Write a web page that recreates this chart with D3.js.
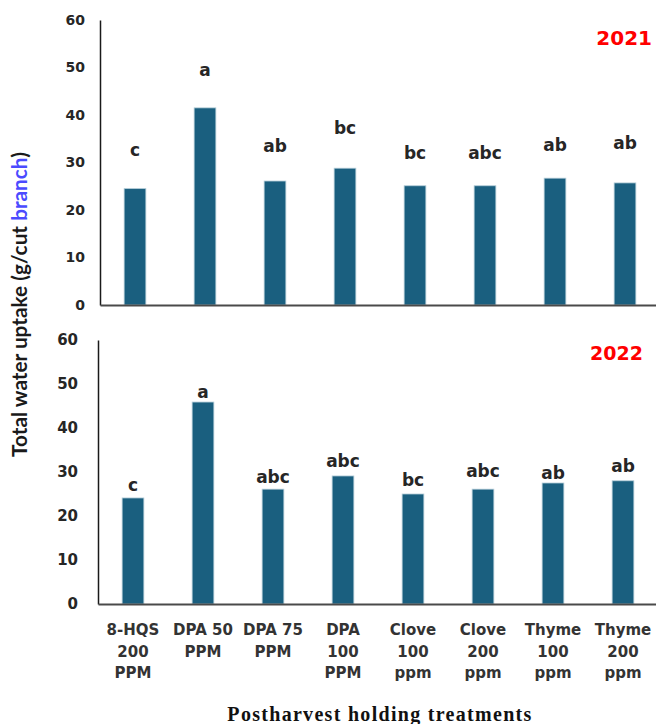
<!DOCTYPE html>
<html>
<head>
<meta charset="utf-8">
<script src="https://cdn.jsdelivr.net/npm/d3@7"></script>
<style>
  html, body { margin: 0; padding: 0; background: #ffffff; }
  svg { display: block; }
</style>
</head>
<body>
<svg id="chart" width="656" height="724"></svg>
<script>
// Treatments (line breaks mark the wrapped label lines)
const categories = [
  "8-HQS\n200\nPPM", "DPA 50\nPPM", "DPA 75\nPPM", "DPA\n100\nPPM",
  "Clove\n100\nppm", "Clove\n200\nppm", "Thyme\n100\nppm", "Thyme\n200\nppm"
];

// Total water uptake (g/cut branch)
const uptake2021 = [24.5, 41.5, 26.1, 28.8, 25.1, 25.1, 26.7, 25.7];
const uptake2022 = [24.1, 45.9, 26.1, 29.1, 25.0, 26.1, 27.5, 28.0];

// Significance letters and the height (g) at which each is printed
const letters2021 = ["c", "a", "ab", "bc", "bc", "abc", "ab", "ab"];
const letters2022 = ["c", "a", "abc", "abc", "bc", "abc", "ab", "ab"];
const letterLevel2021 = [32.6, 49.5, 33.5, 37.3, 32.0, 32.0, 33.7, 34.1];
const letterLevel2022 = [27.0, 48.2, 28.9, 32.5, 28.2, 30.2, 29.8, 31.4];

const yTicks = [0, 10, 20, 30, 40, 50, 60];
const years = ["2021", "2022"];

const svg = d3.select("#chart");
const BAR = "#1a5f7f";
const SANS = "'DejaVu Sans', sans-serif";

function panel(opts) {
  const x = d3.scaleBand()
    .domain(categories)
    .range([opts.left, opts.left + 560])
    .paddingInner(0.69)
    .paddingOuter(0.345);
  const y = d3.scaleLinear().domain([0, 60]).range([opts.bottom, opts.top]);

  const g = svg.append("g");

  // bars
  g.selectAll("rect.bar")
    .data(opts.values)
    .join("rect")
    .attr("class", "bar")
    .attr("x", (d, i) => x(categories[i]))
    .attr("width", x.bandwidth())
    .attr("y", d => y(d))
    .attr("height", d => y(0) - y(d))
    .attr("fill", BAR)
    .attr("stroke", "#b3ccd8")
    .attr("stroke-width", 0.8);

  // significance letters
  g.selectAll("text.letter")
    .data(opts.letters)
    .join("text")
    .attr("class", "letter")
    .attr("x", (d, i) => x(categories[i]) + x.bandwidth() / 2)
    .attr("y", (d, i) => y(opts.levels[i]))
    .attr("dy", "0.36em")
    .attr("text-anchor", "middle")
    .style("font-family", SANS)
    .style("font-weight", "bold")
    .style("font-size", "17px")
    .style("fill", "#262626")
    .text(d => d);

  // y axis
  const ya = g.append("g")
    .attr("transform", `translate(${opts.left},0)`)
    .call(d3.axisLeft(y).tickValues(yTicks).tickSize(0).tickPadding(opts.tickPad).tickFormat(d3.format("d")));
  ya.select(".domain").attr("stroke", "#1a1a1a").attr("stroke-width", 1.5);
  ya.selectAll("text")
    .style("font-family", SANS)
    .style("font-weight", "bold")
    .style("font-size", opts.tickSize + "px")
    .style("fill", "#262626");

  // x axis
  const xa = g.append("g")
    .attr("transform", `translate(0,${opts.bottom})`)
    .call(d3.axisBottom(x).tickSize(0).tickPadding(0).tickFormat(""));
  xa.select(".domain").attr("stroke", "#4a4a4a").attr("stroke-width", 2);

  if (opts.showLabels) {
    xa.selectAll(".tick text").each(function (d) {
      const t = d3.select(this)
        .attr("y", 0)
        .attr("dy", null)
        .style("font-family", SANS)
        .style("font-weight", "bold")
        .style("font-size", "15px")
        .style("fill", "#333333");
      d.split("\n").forEach((line, k) => {
        t.append("tspan")
          .attr("x", 0)
          .attr("y", 31 + k * 21.5)
          .text(line);
      });
    });
  }

  // year tag
  g.append("text")
    .attr("x", opts.yearX)
    .attr("y", opts.yearY)
    .attr("text-anchor", "end")
    .style("font-family", SANS)
    .style("font-weight", "bold")
    .style("font-size", opts.yearSize + "px")
    .style("fill", "#ff0000")
    .text(opts.year);
}

panel({
  left: 100, top: 20, bottom: 305, values: uptake2021,
  letters: letters2021, levels: letterLevel2021,
  tickPad: 15, tickSize: 14, showLabels: false,
  year: years[0], yearX: 652, yearY: 45, yearSize: 20
});

panel({
  left: 98, top: 340, bottom: 604, values: uptake2022,
  letters: letters2022, levels: letterLevel2022,
  tickPad: 20, tickSize: 15, showLabels: true,
  year: years[1], yearX: 643, yearY: 360, yearSize: 19
});

// y axis title
const yTitle = svg.append("text")
  .attr("transform", "translate(27,304.5) rotate(-90)")
  .attr("text-anchor", "middle")
  .style("font-family", "Lato, 'Liberation Sans', sans-serif")
  .style("font-weight", "bold")
  .style("font-size", "18px")
  .style("fill", "#1a1a1a");
yTitle.append("tspan").text("Total water uptake (g/cut ");
yTitle.append("tspan").style("fill", "#4b4bff").text("branch");
yTitle.append("tspan").text(")");
{
  const len = yTitle.node().getComputedTextLength();
  yTitle.style("font-size", (18 * 305 / len).toFixed(2) + "px");
}

// x axis title
const xTitle = svg.append("text")
  .attr("x", 380)
  .attr("y", 721)
  .attr("text-anchor", "middle")
  .style("font-family", "'Liberation Serif', 'Times New Roman', serif")
  .style("font-weight", "bold")
  .style("font-size", "20px")
  .style("fill", "#111111")
  .text("Postharvest holding treatments");
{
  const len = xTitle.node().getComputedTextLength();
  const n = "Postharvest holding treatments".length - 1;
  xTitle.style("letter-spacing", ((304 - len) / n).toFixed(2) + "px");
}
</script>
</body>
</html>
